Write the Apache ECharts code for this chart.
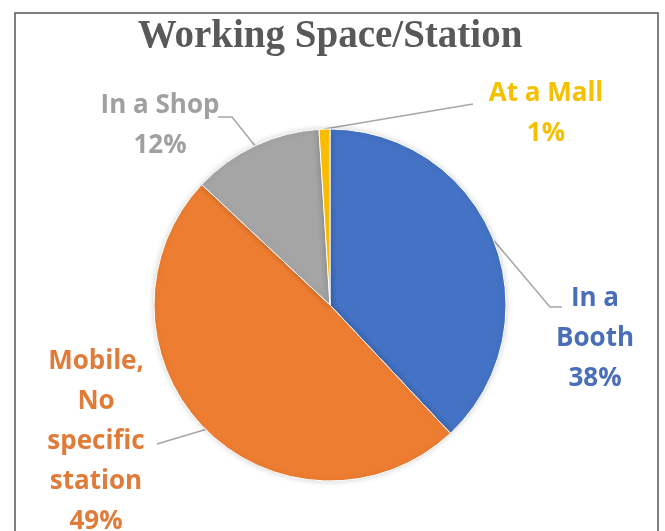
<!DOCTYPE html>
<html><head><meta charset="utf-8">
<script src="https://cdn.jsdelivr.net/npm/echarts@6/dist/echarts.min.js"></script>
<style>html,body{margin:0;padding:0;background:#fff}#c{width:665px;height:531px}</style>
</head><body><div id="c"></div>
<script>
const categories = ['In a\nBooth', 'Mobile,\nNo\nspecific\nstation', 'In a Shop', 'At a Mall'];
const values = [38, 49, 12, 1];
const colors = ['#4472C4', '#ED7D31', '#A5A5A5', '#FFC000'];
const labelColors = ['#4A6FB8', '#E07B3A', '#A0A0A0', '#F5C000'];

// label anchor positions (layout only)
const labelPos = [
  {x: 595, y: 339, line: [[550, 307], [562, 307]]},
  {x: 96, y: 442, line: [[157, 444]]},
  {x: 160, y: 126, line: [[232, 117], [218, 117]]},
  {x: 546, y: 114, line: [[473, 104]]}
];

const chart = echarts.init(document.getElementById('c'));
chart.setOption({
  animation: false,
  title: {
    text: 'Working Space/Station',
    left: 325, top: 12, textAlign: 'center',
    textStyle: {fontFamily: 'Liberation Serif', fontWeight: 'bold', fontSize: 39, color: '#595959'}
  },
  graphic: [{
    type: 'rect', shape: {x: 15, y: 13, width: 643, height: 540},
    style: {fill: 'none', stroke: '#555', lineWidth: 1.5}, silent: true
  }],
  series: [{
    type: 'pie',
    center: [330, 305],
    radius: 176,
    startAngle: 90,
    clockwise: true,
    itemStyle: {borderColor: '#fff', borderWidth: 1, shadowBlur: 6, shadowColor: 'rgba(0,0,0,0.18)'},
    data: categories.map((c, i) => ({
      name: c, value: values[i],
      itemStyle: {color: colors[i]},
      label: {color: labelColors[i]}
    })),
    label: {
      show: true,
      formatter: p => p.name + '\n' + p.value + '%',
      fontFamily: 'Open Sans', fontWeight: 'bold', fontSize: 26, lineHeight: 40,
      align: 'center'
    },
    labelLine: {show: true, lineStyle: {color: '#A6A6A6', width: 1.5}},
    labelLayout: function (params) {
      const lp = labelPos[params.dataIndex];
      const start = params.labelLinePoints ? params.labelLinePoints[0] : lp.line[0];
      return {
        x: lp.x, y: lp.y, align: 'center', verticalAlign: 'middle',
        labelLinePoints: [start].concat(lp.line)
      };
    }
  }]
});
</script></body></html>
